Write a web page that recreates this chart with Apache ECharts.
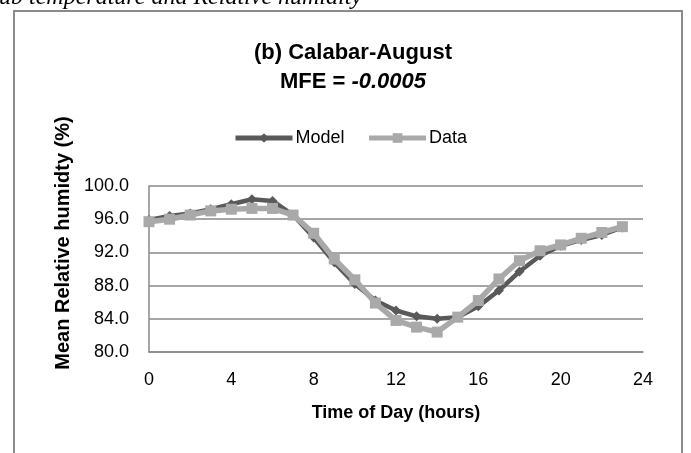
<!DOCTYPE html>
<html>
<head>
<meta charset="utf-8">
<script src="https://cdn.jsdelivr.net/npm/echarts@6/dist/echarts.min.js"></script>
<style>
  html, body { margin: 0; padding: 0; background: #fff; }
  #main { width: 691px; height: 453px; }
</style>
</head>
<body>
<div id="main"></div>
<script>
// hours of the day
const hours = [0, 1, 2, 3, 4, 5, 6, 7, 8, 9, 10, 11, 12, 13, 14, 15, 16, 17, 18, 19, 20, 21, 22, 23];
// mean relative humidity (%)
const modelValues = [95.9, 96.4, 96.7, 97.2, 97.8, 98.4, 98.2, 96.5, 93.8, 90.8, 88.2, 86.2, 85.0, 84.3, 84.0, 84.2, 85.5, 87.4, 89.7, 91.6, 92.8, 93.5, 94.1, 95.0];
const dataValues = [95.7, 96.0, 96.5, 97.0, 97.2, 97.3, 97.3, 96.5, 94.3, 91.2, 88.7, 85.9, 83.8, 83.0, 82.4, 84.2, 86.2, 88.8, 91.0, 92.2, 92.9, 93.7, 94.4, 95.1];
const seriesNames = ['Model', 'Data'];

const FONT = '"Liberation Sans", Arial, sans-serif';

const chart = echarts.init(document.getElementById('main'));

const pairs = (vals) => hours.map((h, i) => [h, vals[i]]);

const option = {
  backgroundColor: '#fff',
  animation: false,
  title: {
    left: 348,
    top: 33,
    textAlign: 'center',
    text: '{a|(b) Calabar-August}\n{a|MFE = }{b|-0.0005}',
    textStyle: {
      rich: {
        a: { fontFamily: FONT, fontSize: 22, fontWeight: 'bold', color: '#000', lineHeight: 29 },
        b: { fontFamily: FONT, fontSize: 22, fontWeight: 'bold', fontStyle: 'italic', color: '#000', lineHeight: 29 }
      }
    }
  },
  legend: {
    left: 233,
    top: 129,
    padding: 0,
    itemWidth: 57,
    itemHeight: 12,
    itemGap: 22,
    data: seriesNames,
    lineStyle: { width: 5 },
    textStyle: { fontFamily: FONT, fontSize: 18, color: '#000', padding: [0, 0, 0, -2] }
  },
  grid: { left: 149, right: 48, top: 186, bottom: 101, containLabel: false },
  xAxis: {
    type: 'value',
    min: 0,
    max: 24,
    interval: 4,
    name: 'Time of Day (hours)',
    nameLocation: 'middle',
    nameGap: 52,
    nameTextStyle: { fontFamily: FONT, fontSize: 18, fontWeight: 'bold', color: '#000' },
    axisLine: { show: true, onZero: false, lineStyle: { color: '#888', width: 1.5 } },
    axisTick: { show: false },
    splitLine: { show: false },
    axisLabel: { fontFamily: FONT, fontSize: 18, color: '#000', margin: 19, showMinLabel: true, showMaxLabel: true }
  },
  yAxis: {
    type: 'value',
    min: 80,
    max: 100,
    interval: 4,
    name: 'Mean Relative humidty (%)',
    nameLocation: 'middle',
    nameGap: 74,
    nameTextStyle: { fontFamily: FONT, fontSize: 20, fontWeight: 'bold', color: '#000', padding: [0, 0, 0, 52] },
    axisLine: { show: true, lineStyle: { color: '#888', width: 1.5 } },
    axisTick: { show: false },
    splitLine: { show: true, lineStyle: { color: '#888', width: 1.5 } },
    axisLabel: {
      fontFamily: FONT, fontSize: 18, color: '#000', margin: 20,
      formatter: (v) => v.toFixed(1)
    }
  },
  series: [
    {
      name: seriesNames[0],
      type: 'line',
      data: pairs(modelValues),
      symbol: 'diamond',
      symbolSize: 10,
      color: '#595959',
      lineStyle: { color: '#595959', width: 4.5 },
      itemStyle: { color: '#595959' },
      z: 2
    },
    {
      name: seriesNames[1],
      type: 'line',
      data: pairs(dataValues),
      symbol: 'rect',
      symbolSize: 11,
      color: '#a9a9a9',
      lineStyle: { color: '#a9a9a9', width: 5.5 },
      itemStyle: { color: '#a9a9a9' },
      z: 3
    }
  ],
  graphic: [
    {
      type: 'rect',
      z: -1,
      shape: { x: 14, y: 11, width: 668, height: 460 },
      style: { fill: 'none', stroke: '#8a8a8a', lineWidth: 2 }
    },
    {
      type: 'text',
      x: -1,
      y: 10,
      style: {
        text: 'ub temperature and Relative humidity',
        font: 'italic 24px "Liberation Serif", serif',
        fill: '#000',
        verticalAlign: 'bottom'
      }
    }
  ]
};

chart.setOption(option);

window.addEventListener('resize', function () {
  chart.resize();
});
</script>
</body>
</html>
